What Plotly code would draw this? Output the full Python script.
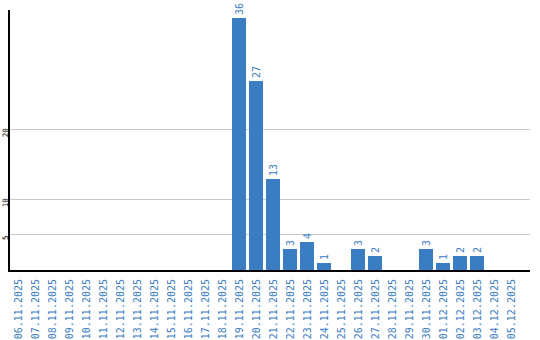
import plotly.graph_objects as go

dates = ["06.11.2025", "07.11.2025", "08.11.2025", "09.11.2025", "10.11.2025",
         "11.11.2025", "12.11.2025", "13.11.2025", "14.11.2025", "15.11.2025",
         "16.11.2025", "17.11.2025", "18.11.2025", "19.11.2025", "20.11.2025",
         "21.11.2025", "22.11.2025", "23.11.2025", "24.11.2025", "25.11.2025",
         "26.11.2025", "27.11.2025", "28.11.2025", "29.11.2025", "30.11.2025",
         "01.12.2025", "02.12.2025", "03.12.2025", "04.12.2025", "05.12.2025"]
values = [0, 0, 0, 0, 0, 0, 0, 0, 0, 0, 0, 0, 0, 36, 27, 13, 3, 4, 1, 0,
          3, 2, 0, 0, 3, 1, 2, 2, 0, 0]
y_ticks = [5, 10, 20]

blue = "#3b7dc3"
labels = [str(v) if v else "" for v in values]

fig = go.Figure(go.Bar(
    x=list(range(len(dates))), y=values, text=labels,
    textposition="outside", textangle=-90,
    textfont=dict(family="DejaVu Sans Mono", size=10, color=blue),
    marker=dict(color=blue, line=dict(width=0)),
    width=14 / 17, cliponaxis=False,
))

fig.update_layout(
    width=540, height=340,
    margin=dict(l=10, r=10, t=10, b=70, autoexpand=False),
    plot_bgcolor="white", paper_bgcolor="white",
    showlegend=False, bargap=0,
    xaxis=dict(
        range=[-0.5, 30.1], tickmode="array", automargin=False,
        tickvals=list(range(len(dates))), ticktext=dates,
        tickangle=-90, showgrid=False, showline=True, linecolor="black",
        linewidth=2, ticks="", ticklen=0, ticklabelstandoff=3,
        tickfont=dict(family="DejaVu Sans Mono", size=10, color=blue),
        fixedrange=True,
    ),
    yaxis=dict(
        range=[0, 37.1], tickmode="array", tickvals=y_ticks, automargin=False,
        ticktext=[str(t) for t in y_ticks], tickangle=-90,
        showgrid=True, gridcolor="#c8c8c8", gridwidth=1,
        showline=True, linecolor="black", linewidth=2, zeroline=False,
        ticks="", ticklabelstandoff=-3, ticklabelshift=4,
        tickfont=dict(family="DejaVu Sans Mono", size=7.5, color="black"),
        fixedrange=True,
    ),
)

fig.write_html("out.html", config={"displayModeBar": False})
